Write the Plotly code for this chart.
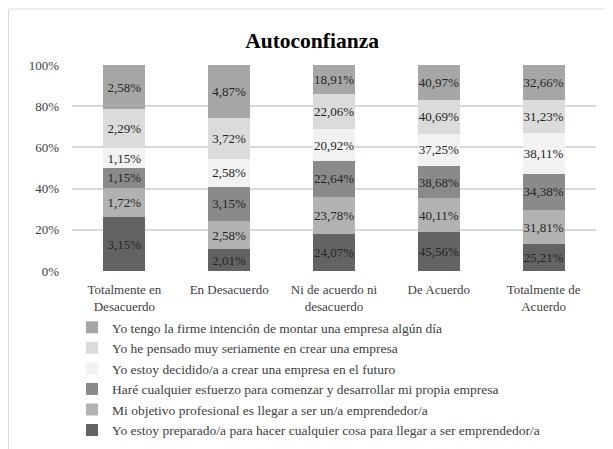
import plotly.graph_objects as go

# categorias del eje x
categorias = ["Totalmente en<br>Desacuerdo", "En Desacuerdo", "Ni de acuerdo ni<br>desacuerdo",
              "De Acuerdo", "Totalmente de<br>Acuerdo"]

# series (de abajo hacia arriba en la barra)
preparado = [3.15, 2.01, 24.07, 45.56, 25.21]
objetivo = [1.72, 2.58, 23.78, 40.11, 31.81]
esfuerzo = [1.15, 3.15, 22.64, 38.68, 34.38]
decidido = [1.15, 2.58, 20.92, 37.25, 38.11]
pensado = [2.29, 3.72, 22.06, 40.69, 31.23]
intencion = [2.58, 4.87, 18.91, 40.97, 32.66]

series = [
    ("Yo estoy preparado/a para hacer cualquier cosa para llegar a ser emprendedor/a", preparado, "#636363"),
    ("Mi objetivo profesional es llegar a ser un/a emprendedor/a", objetivo, "#b2b2b2"),
    ("Haré cualquier esfuerzo para comenzar y desarrollar mi propia empresa", esfuerzo, "#8a8a8a"),
    ("Yo estoy decidido/a a crear una empresa en el futuro", decidido, "#f2f2f2"),
    ("Yo he pensado muy seriamente en crear una empresa", pensado, "#dbdbdb"),
    ("Yo tengo la firme intención de montar una empresa algún día", intencion, "#a6a6a6"),
]

def etiqueta(v):
    return ("%.2f" % v).replace(".", ",") + "%"

fig = go.Figure()
for nombre, vals, color in series:
    fig.add_trace(go.Bar(
        x=categorias, y=vals, name=nombre, legendgroup=nombre,
        marker_color=color, marker_line_width=0,
        text=[etiqueta(v) for v in vals], textposition="inside",
        insidetextanchor="middle", textangle=0, constraintext="none",
        textfont=dict(family="Liberation Serif", size=13, color="#262626"),
        hoverinfo="skip",
    ))

# the page has an 8px body margin, so the plot area sits at x 64..588, y 57..263 in figure coords
fig.update_layout(
    barmode="stack", barnorm="percent", bargap=0.6,
    width=613, height=449,
    margin=dict(l=64, r=25, t=57, b=186, pad=0, autoexpand=False),
    paper_bgcolor="white", plot_bgcolor="white",
    font=dict(family="Liberation Serif", size=13, color="#404040"),
    title=dict(text="<b>Autoconfianza</b>", x=0.496, xanchor="center", y=0.928, yanchor="middle",
               font=dict(family="Liberation Serif", size=21.5, color="#000000")),
    legend=dict(orientation="v", x=0.0, xanchor="left", y=-0.199, yanchor="top",
                font=dict(family="Liberation Serif", size=13.5, color="#404040"),
                traceorder="reversed", itemwidth=30, tracegroupgap=0),
    showlegend=True,
)
fig.update_xaxes(showgrid=False, showline=False, ticks="", ticklabelstandoff=9,
                 tickfont=dict(size=13, color="#404040"))
fig.update_yaxes(range=[0, 100], dtick=20, ticksuffix="%", showgrid=True,
                 gridcolor="#d9d9d9", gridwidth=1.5, zeroline=False,
                 tickfont=dict(size=13, color="#404040"), ticks="", ticklabelstandoff=12)

# marco del grafico (solo borde superior e izquierdo visibles)
fig.add_shape(type="rect", xref="paper", yref="paper",
              x0=(0.5 - 64) / 524, x1=(640 - 64) / 524, y0=-1.2, y1=(263 - 1) / 206,
              line=dict(color="#d9d9d9", width=1), layer="below")

fig.write_html("out.html")
